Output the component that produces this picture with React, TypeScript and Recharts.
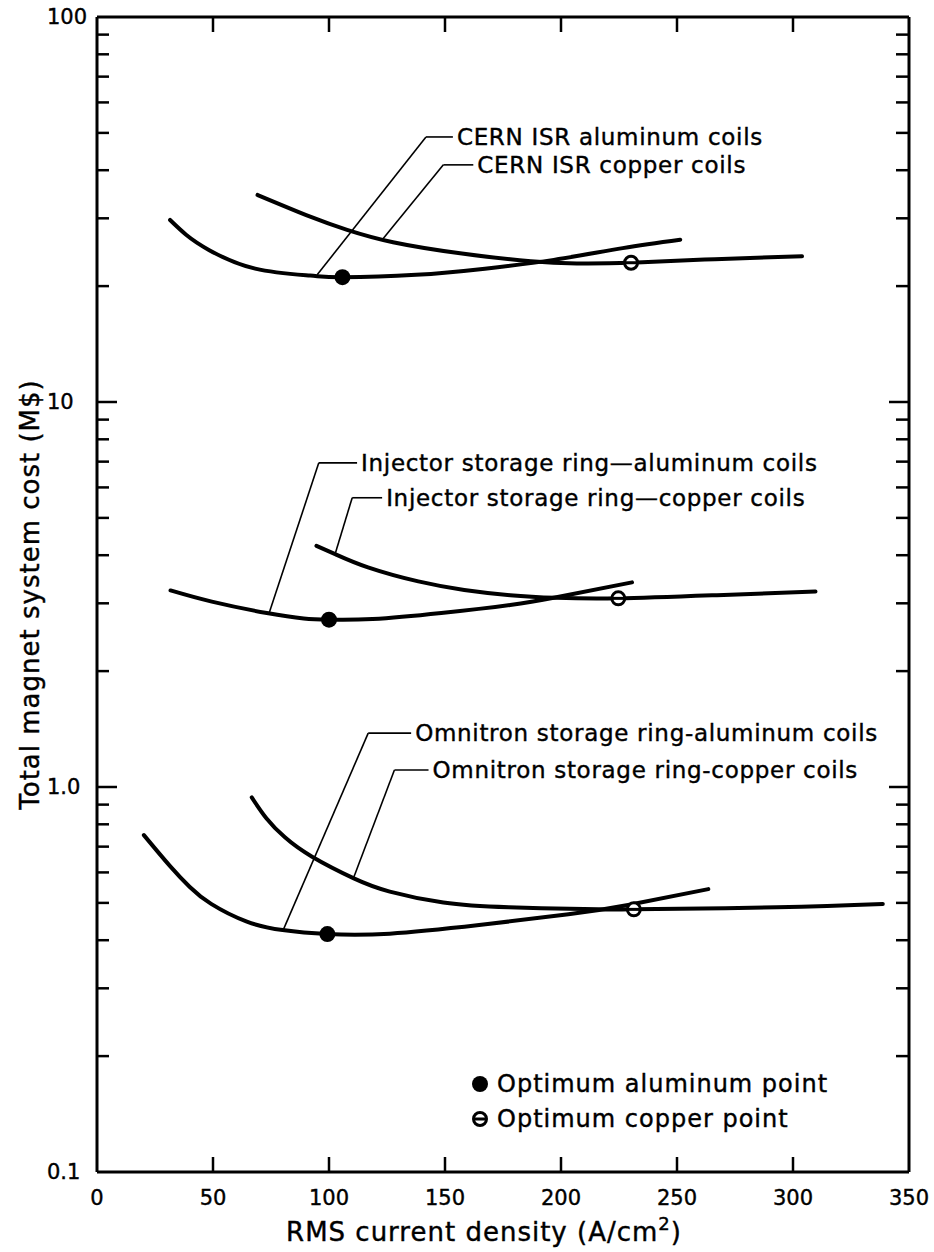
import React from 'react';
import { ComposedChart, Line, Scatter, XAxis, YAxis, ReferenceLine, ReferenceDot, Legend } from 'recharts';

const FONT = '"DejaVu Sans", sans-serif';

// axis ticks
const xTicks = [0, 50, 100, 150, 200, 250, 300, 350];
const yTicks = [
  0.1, 0.2, 0.3, 0.4, 0.5, 0.6, 0.7, 0.8, 0.9,
  1, 2, 3, 4, 5, 6, 7, 8, 9,
  10, 20, 30, 40, 50, 60, 70, 80, 90, 100,
];
const yTickLabels: Record<string, string> = { '0.1': '0.1', '1': '1.0', '10': '10', '100': '100' };

// cost curves: x = RMS current density (A/cm2), y = cost (M$)
const cernAluminum = [
  { x: 31.5, y: 29.7 }, { x: 38.4, y: 27.2 }, { x: 48.4, y: 24.8 }, { x: 68.2, y: 22.2 },
  { x: 91.9, y: 21.3 }, { x: 105.8, y: 21.1 }, { x: 137.5, y: 21.4 }, { x: 167.2, y: 22.2 },
  { x: 196.9, y: 23.4 }, { x: 226.6, y: 25.1 }, { x: 251.4, y: 26.4 },
];
const cernCopper = [
  { x: 69.2, y: 34.5 }, { x: 91.9, y: 30.3 }, { x: 107.8, y: 28.0 }, { x: 127.6, y: 26.0 },
  { x: 157.3, y: 24.3 }, { x: 187, y: 23.2 }, { x: 206.8, y: 22.9 }, { x: 230.2, y: 23.0 },
  { x: 266.3, y: 23.5 }, { x: 303.9, y: 23.9 },
];
const injectorAluminum = [
  { x: 31.7, y: 3.24 }, { x: 49.5, y: 3.03 }, { x: 73.2, y: 2.83 }, { x: 89.1, y: 2.74 },
  { x: 100, y: 2.72 }, { x: 118.8, y: 2.73 }, { x: 148.4, y: 2.83 }, { x: 178.1, y: 2.97 },
  { x: 198, y: 3.11 }, { x: 230.6, y: 3.4 },
];
const injectorCopper = [
  { x: 94.6, y: 4.23 }, { x: 102.9, y: 4.02 }, { x: 116.8, y: 3.72 }, { x: 138.5, y: 3.42 },
  { x: 158.3, y: 3.25 }, { x: 178.1, y: 3.15 }, { x: 197.9, y: 3.1 }, { x: 224.7, y: 3.09 },
  { x: 267.2, y: 3.15 }, { x: 309.7, y: 3.22 },
];
const omnitronAluminum = [
  { x: 20.2, y: 0.75 }, { x: 31.3, y: 0.625 }, { x: 40, y: 0.55 }, { x: 49.2, y: 0.497 },
  { x: 64.6, y: 0.447 }, { x: 80, y: 0.425 }, { x: 99.3, y: 0.415 }, { x: 126.2, y: 0.416 },
  { x: 164.7, y: 0.438 }, { x: 203.2, y: 0.467 }, { x: 228.9, y: 0.494 }, { x: 263.5, y: 0.543 },
];
const omnitronCopper = [
  { x: 66.7, y: 0.94 }, { x: 73, y: 0.83 }, { x: 81, y: 0.74 }, { x: 92.7, y: 0.659 },
  { x: 110.7, y: 0.579 }, { x: 126.2, y: 0.535 }, { x: 149.3, y: 0.501 }, { x: 177.5, y: 0.487 },
  { x: 216, y: 0.481 }, { x: 231.4, y: 0.481 }, { x: 293, y: 0.487 }, { x: 338.7, y: 0.497 },
];

// optimum points
const aluminumOptimum = [{ x: 105.8, y: 21.1 }, { x: 100, y: 2.72 }, { x: 99.3, y: 0.415 }];
const copperOptimum = [{ x: 230.2, y: 23.0 }, { x: 224.7, y: 3.09 }, { x: 231.4, y: 0.481 }];

// curve labels and their leader lines (curve point -> elbow -> label)
const labelTexts = [
  'CERN ISR aluminum coils',
  'CERN ISR copper coils',
  'Injector storage ring\u2014aluminum coils',
  'Injector storage ring\u2014copper coils',
  'Omnitron storage ring-aluminum coils',
  'Omnitron storage ring-copper coils',
];
const leaderStart = [
  { x: 94.9, y: 21.4 }, { x: 123.2, y: 26.5 },
  { x: 74.2, y: 2.83 }, { x: 102.8, y: 4.06 },
  { x: 80.1, y: 0.423 }, { x: 110.6, y: 0.581 },
];
const leaderElbow = [
  { x: 141.8, y: 48.8 }, { x: 149.3, y: 41.3 },
  { x: 95.6, y: 6.95 }, { x: 110, y: 5.64 },
  { x: 116.9, y: 1.38 }, { x: 128.2, y: 1.107 },
];
const leaderEndX = [153.4, 162.2, 112.1, 122.9, 135.4, 142.9];

const legendTexts = ['Optimum aluminum point', 'Optimum copper point'];

const curves = [cernAluminum, cernCopper, injectorAluminum, injectorCopper, omnitronAluminum, omnitronCopper];

const AluminumDot = (props: any) => <circle cx={props.cx} cy={props.cy} r={8} fill="#000" />;

const CopperDot = (props: any) => (
  <g>
    <circle cx={props.cx} cy={props.cy} r={6.5} fill="#fff" stroke="#000" strokeWidth={3} />
    <line x1={props.cx - 6} x2={props.cx + 6} y1={props.cy} y2={props.cy} stroke="#000" strokeWidth={3} />
  </g>
);

const isMajor = (v: number) => yTickLabels[String(v)] !== undefined;

const textProps = { fontFamily: FONT, fill: '#000', stroke: '#000', strokeWidth: 0.4 };

const BottomTick = ({ x, y, payload }: any) => {
  const v = payload.value;
  return (
    <g>
      {v > 0 && v < 350 && <line x1={x} y1={y} x2={x} y2={y - 15} stroke="#000" strokeWidth={2.5} />}
      <text x={x} y={y + 26} textAnchor="middle" dominantBaseline="central" fontSize={21} {...textProps}>
        {v}
      </text>
    </g>
  );
};

const TopTick = ({ x, y, payload }: any) => {
  const v = payload.value;
  if (v <= 0 || v >= 350) return <g />;
  return <line x1={x} y1={y} x2={x} y2={y + 15} stroke="#000" strokeWidth={2.5} />;
};

const LeftTick = ({ x, y, payload }: any) => {
  const v = payload.value;
  const major = isMajor(v);
  return (
    <g>
      {v > 0.1 && v < 100 && <line x1={x} y1={y} x2={x + (major ? 20 : 12)} y2={y} stroke="#000" strokeWidth={2.5} />}
      {major && (
        <text x={x - 50} y={y} textAnchor="start" dominantBaseline="central" fontSize={21} {...textProps}>
          {yTickLabels[String(v)]}
        </text>
      )}
    </g>
  );
};

const RightTick = ({ x, y, payload }: any) => {
  const v = payload.value;
  if (v <= 0.1 || v >= 100) return <g />;
  return <line x1={x} y1={y} x2={x - (isMajor(v) ? 20 : 13)} y2={y} stroke="#000" strokeWidth={2.5} />;
};

const YTitle = ({ viewBox }: any) => {
  const cx = viewBox.x + 30;
  const cy = viewBox.y + viewBox.height / 2;
  return (
    <text x={cx} y={cy} transform={`rotate(-90, ${cx}, ${cy})`} textAnchor="middle" dominantBaseline="central"
      fontSize={26} letterSpacing={1} {...textProps}>
      Total magnet system cost (M$)
    </text>
  );
};

const XTitle = ({ viewBox }: any) => {
  const cx = viewBox.x + viewBox.width / 2 - 19;
  return (
    <text x={cx} y={viewBox.y + 60} textAnchor="middle" dominantBaseline="central"
      fontSize={26} letterSpacing={1} {...textProps}>
      RMS current density (A/cm<tspan dy={-9} fontSize={18}>2</tspan><tspan dy={9}>)</tspan>
    </text>
  );
};

const LegendBox = () => (
  <div style={{ fontFamily: FONT, fontSize: 24, letterSpacing: 1, color: '#000', WebkitTextStroke: '0.4px #000' }}>
    {legendTexts.map((t, i) => (
      <div key={t} style={{ display: 'flex', alignItems: 'center', height: 35 }}>
        <svg width={18} height={20}>
          {i === 0 ? <AluminumDot cx={9} cy={10} /> : <CopperDot cx={9} cy={10} />}
        </svg>
        <span style={{ marginLeft: 8, whiteSpace: 'nowrap' }}>{t}</span>
      </div>
    ))}
  </div>
);

export default function App() {
  return (
    <div style={{ position: 'absolute', left: 0, top: 0, background: '#fff' }}>
      <ComposedChart width={934} height={1252} margin={{ top: 0, right: 0, bottom: 0, left: 0 }}>
        <XAxis xAxisId="bottom" dataKey="x" type="number" domain={[0, 350]} ticks={xTicks} interval={0}
          allowDataOverflow height={80} tickSize={0} tickMargin={0} tickLine={false}
          axisLine={{ stroke: '#000', strokeWidth: 3 }} tick={<BottomTick />} label={<XTitle />} />
        <XAxis xAxisId="top" orientation="top" dataKey="x" type="number" domain={[0, 350]} ticks={xTicks} interval={0}
          allowDataOverflow height={17} tickSize={0} tickMargin={0} tickLine={false}
          axisLine={{ stroke: '#000', strokeWidth: 3 }} tick={<TopTick />} />
        <YAxis yAxisId="left" dataKey="y" type="number" scale="log" domain={[0.1, 100]} ticks={yTicks} interval={0}
          allowDataOverflow width={97} tickSize={0} tickMargin={0} tickLine={false}
          axisLine={{ stroke: '#000', strokeWidth: 3 }} tick={<LeftTick />} label={<YTitle />} />
        <YAxis yAxisId="right" orientation="right" dataKey="y" type="number" scale="log" domain={[0.1, 100]} ticks={yTicks}
          interval={0} allowDataOverflow width={25} tickSize={0} tickMargin={0} tickLine={false}
          axisLine={{ stroke: '#000', strokeWidth: 3 }} tick={<RightTick />} />

        {curves.map((d, i) => (
          <Line key={i} xAxisId="bottom" yAxisId="left" data={d} dataKey="y" type="natural" stroke="#000"
            strokeWidth={4} strokeLinecap="round" dot={false} activeDot={false} isAnimationActive={false} />
        ))}

        {labelTexts.map((t, i) => (
          <ReferenceLine key={`a${i}`} xAxisId="bottom" yAxisId="left" stroke="#000" strokeWidth={1.6}
            segment={[leaderStart[i], leaderElbow[i]]} />
        ))}
        {labelTexts.map((t, i) => (
          <ReferenceLine key={`b${i}`} xAxisId="bottom" yAxisId="left" stroke="#000" strokeWidth={1.6}
            segment={[leaderElbow[i], { x: leaderEndX[i], y: leaderElbow[i].y }]} />
        ))}
        {labelTexts.map((t, i) => (
          <ReferenceDot key={`c${i}`} xAxisId="bottom" yAxisId="left" x={leaderEndX[i]} y={leaderElbow[i].y} r={0}
            shape={(p: any) => (
              <text x={p.cx + 4} y={p.cy} dominantBaseline="central" fontSize={23} letterSpacing={0.7} {...textProps}>
                {t}
              </text>
            )} />
        ))}

        <Scatter xAxisId="bottom" yAxisId="left" data={aluminumOptimum} shape={<AluminumDot />} isAnimationActive={false} />
        <Scatter xAxisId="bottom" yAxisId="left" data={copperOptimum} shape={<CopperDot />} isAnimationActive={false} />

        <Legend layout="horizontal" verticalAlign="middle" align="center" content={<LegendBox />}
          wrapperStyle={{ position: 'absolute', left: 471, top: 1066, width: 'auto' }} />
      </ComposedChart>
    </div>
  );
}
